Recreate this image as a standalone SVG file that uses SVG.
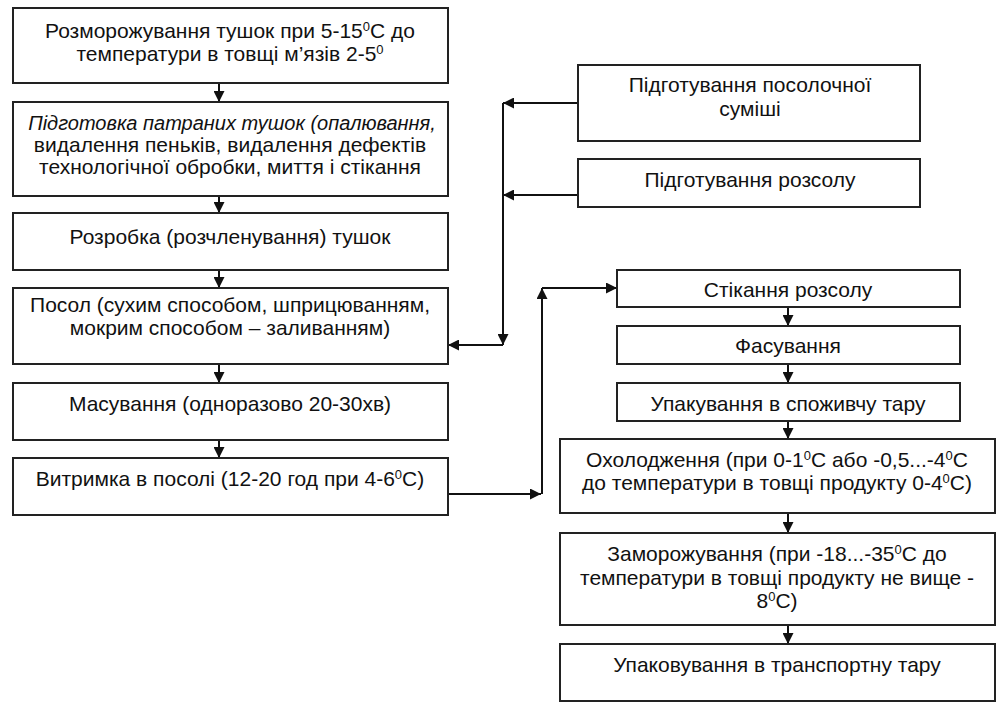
<svg xmlns="http://www.w3.org/2000/svg" width="1006" height="712" viewBox="0 0 1006 712">
<defs>
<marker id="ah" viewBox="0 0 10 10" refX="10" refY="5" markerWidth="11" markerHeight="11" markerUnits="userSpaceOnUse" orient="auto">
<path d="M0,0 L10,5 L0,10 z" fill="#111"/>
</marker>
<style>
.box{fill:#fff;stroke:#222;stroke-width:2}
.t{font-family:"Liberation Sans",Arial,sans-serif;font-size:21px;fill:#111;text-anchor:middle}
.i{font-style:italic;font-size:20px}
.sup{font-size:13px;baseline-shift:super}
.c{fill:none;stroke:#111;stroke-width:2;marker-end:url(#ah)}
</style>
</defs>
<rect width="1006" height="712" fill="#fff"/>
<g id="connectors">
<path class="c" d="M219,83 V102"/>
<path class="c" d="M219,196 V213"/>
<path class="c" d="M219,270 V288"/>
<path class="c" d="M219,364 V383"/>
<path class="c" d="M219,440 V458"/>
<path class="c" d="M578,103 H503"/>
<path class="c" d="M578,195 H503"/>
<path class="c" d="M503,103 V345"/>
<path class="c" d="M503,345 H448"/>
<path class="c" d="M448,494 H541"/>
<path class="c" d="M542,494 V288"/>
<path class="c" d="M542,288 H617"/>
<path class="c" d="M788,307 V326"/>
<path class="c" d="M788,364 V383"/>
<path class="c" d="M788,421 V439"/>
<path class="c" d="M788,513 V533"/>
<path class="c" d="M788,625 V644"/>
</g>
<g id="n1"><rect class="box" x="13" y="8" width="435" height="75"/>
<text class="t" x="230" y="38">Розморожування тушок при 5-15<tspan class="sup">0</tspan>С до</text>
<text class="t" x="230" y="61">температури в товщі м’язів 2-5<tspan class="sup">0</tspan></text></g>
<g id="n2"><rect class="box" x="13" y="102" width="435" height="94"/>
<text class="t i" x="232" y="130">Підготовка патраних тушок (опалювання,</text>
<text class="t" x="230" y="152">видалення пеньків, видалення дефектів</text>
<text class="t" x="230" y="174">технологічної обробки, миття і стікання</text></g>
<g id="n3"><rect class="box" x="13" y="213" width="435" height="57"/>
<text class="t" x="230" y="244">Розробка (розчленування) тушок</text></g>
<g id="n4"><rect class="box" x="13" y="288" width="435" height="76"/>
<text class="t" x="230" y="312">Посол (сухим способом, шприцюванням,</text>
<text class="t" x="230" y="335">мокрим способом – заливанням)</text></g>
<g id="n5"><rect class="box" x="13" y="383" width="435" height="57"/>
<text class="t" x="230" y="411">Масування (одноразово 20-30хв)</text></g>
<g id="n6"><rect class="box" x="13" y="458" width="435" height="57"/>
<text class="t" x="230" y="486">Витримка в посолі (12-20 год при 4-6<tspan class="sup">0</tspan>С)</text></g>
<g id="n7"><rect class="box" x="578" y="65" width="342" height="76"/>
<text class="t" x="750" y="92">Підготування посолочної</text>
<text class="t" x="750" y="116">суміші</text></g>
<g id="n8"><rect class="box" x="578" y="159" width="342" height="48"/>
<text class="t" x="750" y="187">Підготування розсолу</text></g>
<g id="n9"><rect class="box" x="617" y="270" width="343" height="37"/>
<text class="t" x="788" y="297">Стікання розсолу</text></g>
<g id="n10"><rect class="box" x="617" y="326" width="343" height="38"/>
<text class="t" x="788" y="353">Фасування</text></g>
<g id="n11"><rect class="box" x="617" y="383" width="343" height="38"/>
<text class="t" x="788" y="411">Упакування в споживчу тару</text></g>
<g id="n12"><rect class="box" x="560" y="439" width="435" height="74"/>
<text class="t" x="777" y="467">Охолодження (при 0-1<tspan class="sup">0</tspan>С або -0,5...-4<tspan class="sup">0</tspan>С</text>
<text class="t" x="777" y="490">до температури в товщі продукту 0-4<tspan class="sup">0</tspan>С)</text></g>
<g id="n13"><rect class="box" x="560" y="533" width="435" height="92"/>
<text class="t" x="777" y="561">Заморожування (при -18...-35<tspan class="sup">0</tspan>С до</text>
<text class="t" x="777" y="585">температури в товщі продукту не вище -</text>
<text class="t" x="777" y="608">8<tspan class="sup">0</tspan>С)</text></g>
<g id="n14"><rect class="box" x="560" y="644" width="435" height="57"/>
<text class="t" x="777" y="672">Упаковування в транспортну тару</text></g>
</svg>
